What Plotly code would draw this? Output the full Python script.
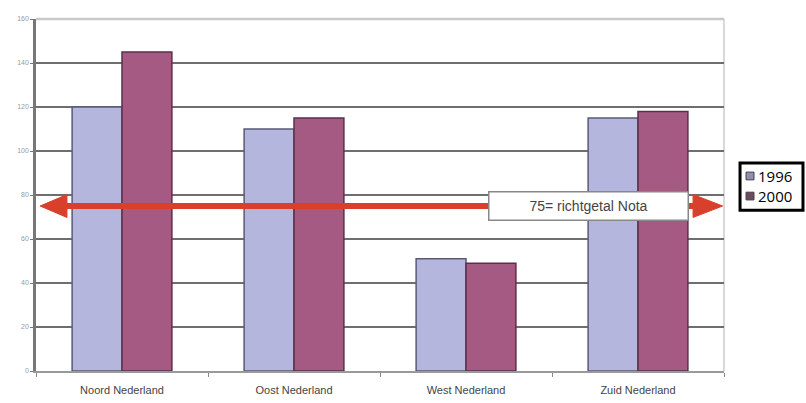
import plotly.graph_objects as go

categories = ["Noord Nederland", "Oost Nederland", "West Nederland", "Zuid Nederland"]
series_names = ["1996", "2000"]
values_1996 = [120, 110, 51, 115]
values_2000 = [145, 115, 49, 118]
target_value = 75
target_label = "75= richtgetal Nota"
y_ticks = [0, 20, 40, 60, 80, 100, 120, 140, 160]

colors = ["#b4b6de", "#a45a82"]
outlines = ["#5a5a78", "#5a3048"]

fig = go.Figure()
for name, vals, c, o in zip(series_names, [values_1996, values_2000], colors, outlines):
    fig.add_trace(go.Bar(x=categories, y=vals, name=name,
                         marker=dict(color=c, line=dict(color=o, width=1.5))))

red = "#d8402c"
fig.add_shape(type="line", xref="paper", yref="y", x0=0.03, x1=0.96, y0=target_value, y1=target_value,
              line=dict(color=red, width=6), layer="above")
fig.add_shape(type="path", xref="paper", yref="y",
              path=f"M 0.006 {target_value} L 0.045 {target_value+5.2} L 0.045 {target_value-5.2} Z",
              fillcolor=red, line=dict(color=red, width=1), layer="above")
fig.add_shape(type="path", xref="paper", yref="y",
              path=f"M 0.998 {target_value} L 0.955 {target_value+5.2} L 0.955 {target_value-5.2} Z",
              fillcolor=red, line=dict(color=red, width=1), layer="above")

fig.add_annotation(xref="paper", yref="y", x=0.803, y=target_value, xanchor="center", yanchor="middle",
                   text=target_label, showarrow=False, bgcolor="white", bordercolor="#888888",
                   borderwidth=1.5, width=196, height=25,
                   font=dict(family="Liberation Sans, Arial", size=14, color="#444444"))

# custom compact legend (box, swatches, labels)
fig.add_shape(type="rect", xref="paper", yref="paper", x0=1.0233, x1=1.1148, y0=0.457, y1=0.591,
              line=dict(color="black", width=3), fillcolor="white")
legend_y = [0.554, 0.497]
for name, c, ly in zip(series_names, ["#8e90b0", "#6e4a60"], legend_y):
    fig.add_shape(type="rect", xref="paper", yref="paper", x0=1.032, x1=1.0436,
                  y0=ly - 0.011, y1=ly + 0.011, fillcolor=c, line=dict(color="#444444", width=1))
    fig.add_annotation(xref="paper", yref="paper", x=1.047, y=ly, xanchor="left", yanchor="middle",
                       text=name, showarrow=False,
                       font=dict(family="Open Sans, Liberation Sans", size=15, color="black"))

fig.update_layout(
    width=806, height=403,
    margin=dict(l=36, r=82, t=19, b=32, autoexpand=False),
    paper_bgcolor="white", plot_bgcolor="white",
    barmode="group", bargap=0.42, bargroupgap=0,
    showlegend=False,
    xaxis=dict(showgrid=False, ticks="outside", tickson="boundaries", ticklen=4,
               tickcolor="#888888", showline=True, linecolor="#999999", linewidth=2,
               ticklabelstandoff=8,
               tickfont=dict(family="Liberation Sans, Arial", size=11, color="#444444")),
    yaxis=dict(range=[0, 160], tickvals=y_ticks, showgrid=True, gridcolor="#6e6e6e", gridwidth=2,
               showline=True, linecolor="#777777", linewidth=2.5, ticks="outside", ticklen=3,
               tickcolor="#777777", zeroline=False,
               tickfont=dict(family="Liberation Sans, Arial", size=7, color="#999999")),
)
fig.add_shape(type="line", xref="paper", yref="paper", x0=1, x1=1, y0=0, y1=1,
              line=dict(color="#cccccc", width=1.5), layer="below")
fig.add_shape(type="line", xref="paper", yref="paper", x0=0, x1=1, y0=1, y1=1,
              line=dict(color="#c8c8c8", width=2.5), layer="below")

fig.write_html("out.html")
